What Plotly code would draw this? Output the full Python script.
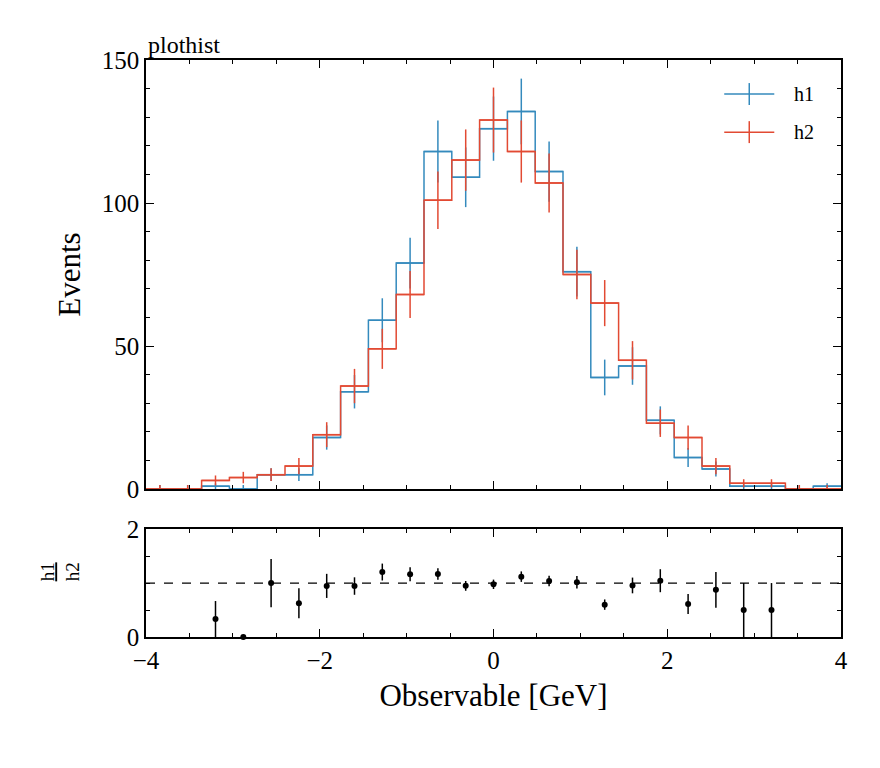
import numpy as np
import plotly.graph_objects as go

# 25 bins from -4 to 4
bin_edges = np.linspace(-4, 4, 26)
h1_counts = [0, 0, 1, 0, 5, 5, 18, 34, 59, 79, 118, 109, 126, 132, 111, 76, 39, 43, 24, 11, 7, 1, 1, 0, 1]
h2_counts = [0, 0, 3, 4, 5, 8, 19, 36, 49, 68, 101, 115, 129, 118, 107, 75, 65, 45, 23, 18, 8, 2, 2, 0, 0]

BLUE = "#348ABD"
RED = "#E24A33"
FONT = "Liberation Serif"

centers = 0.5 * (bin_edges[:-1] + bin_edges[1:])
h1 = np.array(h1_counts, float)
h2 = np.array(h2_counts, float)


def step_xy(counts):
    x = list(bin_edges)
    y = list(counts) + [counts[-1]]
    return x, y


def err_up(counts):
    return [np.sqrt(c) if c > 0 else 1.4 for c in counts]


fig = go.Figure()
for name, counts, color in [("h1", h1, BLUE), ("h2", h2, RED)]:
    sx, sy = step_xy(counts)
    fig.add_trace(go.Scatter(x=sx, y=sy, mode="lines", line_shape="hv",
                             line=dict(color=color, width=1.5), showlegend=False,
                             xaxis="x", yaxis="y"))
    fig.add_trace(go.Scatter(x=centers, y=counts, mode="markers", name=name,
                             marker=dict(size=1, color=color), showlegend=False,
                             error_y=dict(type="data", array=err_up(counts),
                                          arrayminus=list(np.sqrt(counts)),
                                          color=color, thickness=1.5, width=0),
                             error_x=dict(type="data", array=[0.16] * len(centers),
                                          color=color, thickness=1.5, width=0),
                             xaxis="x", yaxis="y"))

mask = (h2 > 0)
ratio = np.where(mask, h1 / np.where(mask, h2, 1), np.nan)
ratio_err = np.where(mask, np.sqrt(h1) / np.where(mask, h2, 1), np.nan)
fig.add_trace(go.Scatter(x=centers[mask], y=ratio[mask], mode="markers",
                         marker=dict(size=6, color="black"), showlegend=False,
                         error_y=dict(type="data", array=ratio_err[mask], color="black",
                                      thickness=1.5, width=0),
                         xaxis="x2", yaxis="y2", cliponaxis=False))
fig.add_shape(type="line", x0=-4, x1=4, y0=1, y1=1, xref="x2", yref="y2",
              line=dict(color="black", width=1.2, dash="dash"))

# hand-drawn legend (line + error cross)
for name, color, ly in [("h1", BLUE, 0.941), ("h2", RED, 0.875)]:
    fig.add_shape(type="line", xref="paper", yref="paper", x0=0.832, x1=0.904, y0=ly, y1=ly,
                  line=dict(color=color, width=1.5))
    fig.add_shape(type="line", xref="paper", yref="paper", x0=0.868, x1=0.868,
                  y0=ly - 0.019, y1=ly + 0.019, line=dict(color=color, width=1.5))
    fig.add_annotation(text=name, xref="paper", yref="paper", x=0.93, y=ly,
                       xanchor="left", yanchor="middle", showarrow=False,
                       font=dict(family=FONT, size=20))

axis_common = dict(showline=True, linecolor="black", linewidth=1.5, mirror="ticks",
                   ticks="inside", ticklen=8, tickwidth=1.3, tickcolor="black",
                   showgrid=False, zeroline=False,
                   tickfont=dict(family=FONT, size=25, color="black"))

fig.update_layout(
    width=880, height=768,
    margin=dict(l=138, r=47, t=52, b=139),
    plot_bgcolor="white", paper_bgcolor="white",
    font=dict(family=FONT, color="black"),
    xaxis=dict(range=[-4, 4], domain=[0, 1], anchor="y", showticklabels=False,
               tickvals=[-4, -2, 0, 2, 4],
               minor=dict(ticks="inside", ticklen=4, dtick=0.5, tickcolor="black"),
               **axis_common),
    yaxis=dict(range=[0, 150], domain=[0.2565, 1], anchor="x", tickvals=[0, 50, 100, 150],
               minor=dict(ticks="inside", ticklen=4, dtick=10, tickcolor="black"),
               title=dict(text="Events", font=dict(size=31), standoff=12),
               **axis_common),
    xaxis2=dict(range=[-4, 4], domain=[0, 1], anchor="y2", tickvals=[-4, -2, 0, 2, 4],
                ticktext=["\u22124", "\u22122", "0", "2", "4"],
                minor=dict(ticks="inside", ticklen=4, dtick=0.5, tickcolor="black"),
                title=dict(text="Observable [GeV]", font=dict(size=31), standoff=12),
                **axis_common),
    yaxis2=dict(range=[0, 2], domain=[0, 0.187], anchor="x2", tickvals=[0, 2],
                minor=dict(ticks="inside", ticklen=4, tickvals=[0.5, 1, 1.5], tickcolor="black"),
                **axis_common),
    showlegend=False,
)

fig.add_annotation(text="plothist", xref="paper", yref="paper", x=0, y=1,
                   xanchor="left", yanchor="bottom", showarrow=False,
                   font=dict(family=FONT, size=24))
fig.add_annotation(text="<u>h1</u><br>h2", xref="paper", yref="paper", x=-0.16, y=0.0935,
                   textangle=-90, showarrow=False, font=dict(family=FONT, size=19))

fig.write_html("out.html")
